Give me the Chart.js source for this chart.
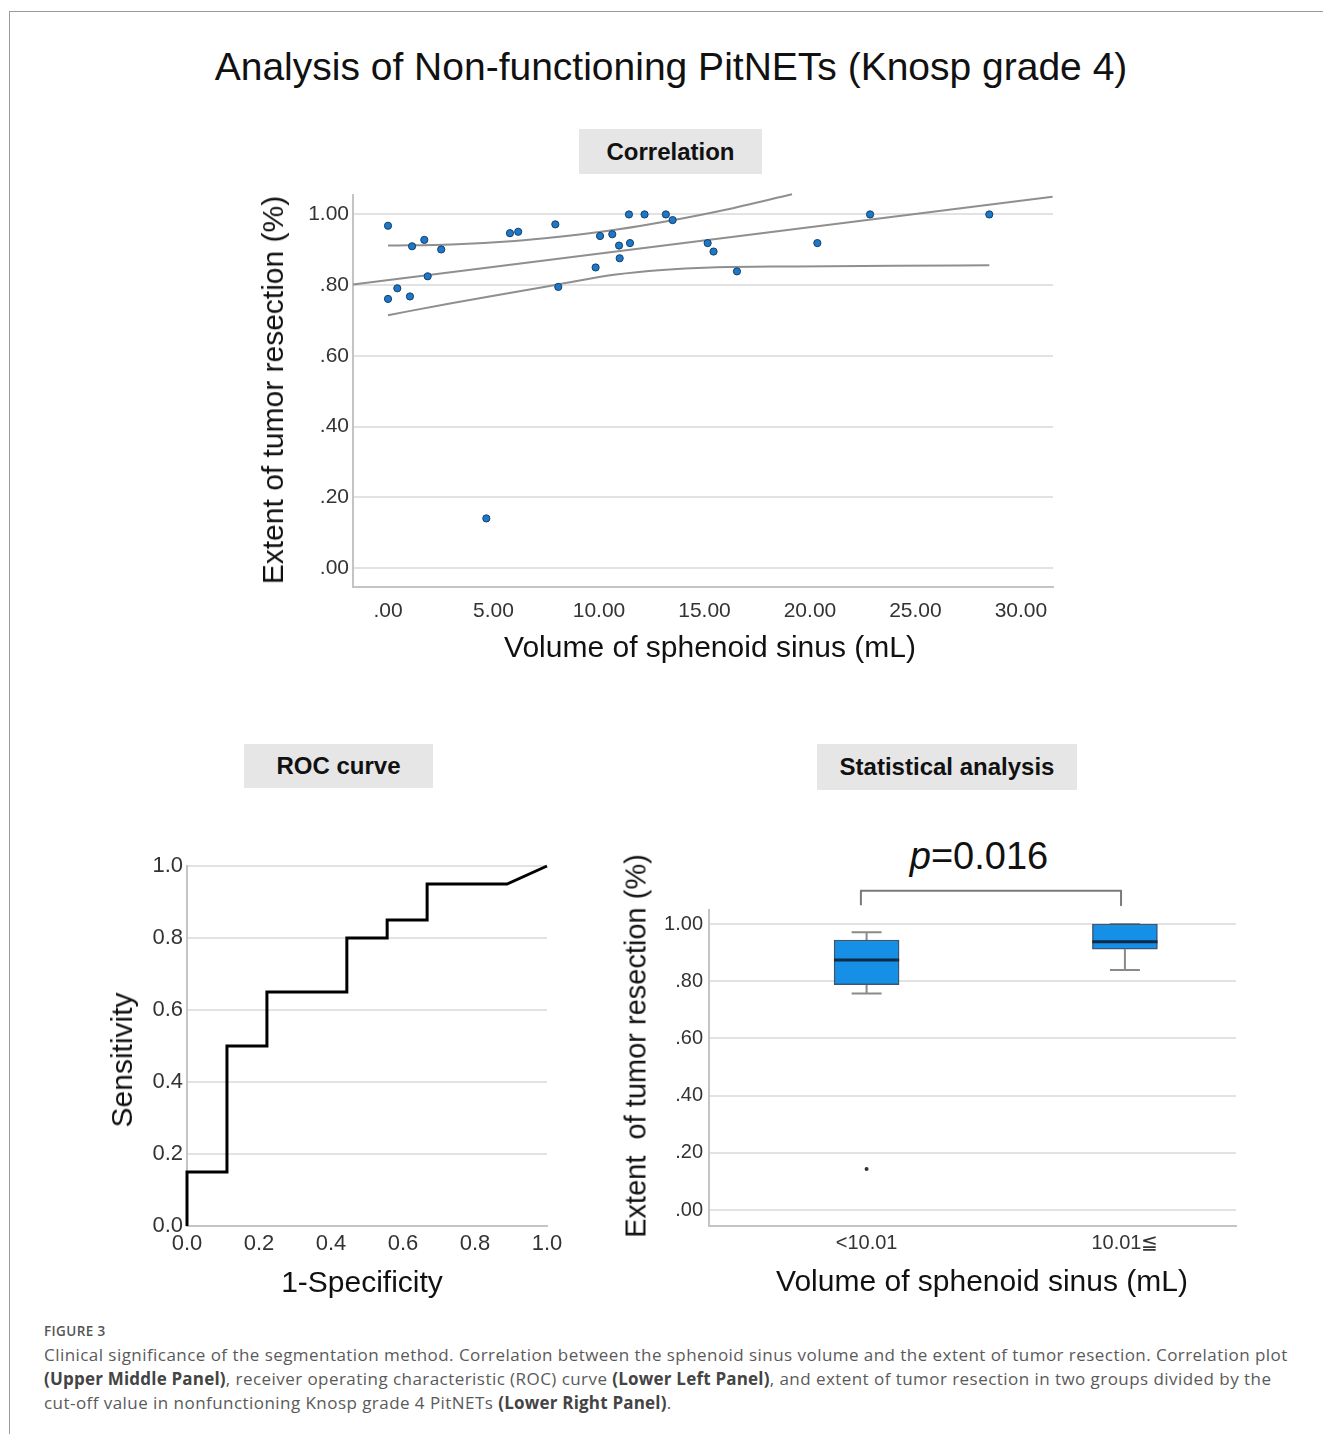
<!DOCTYPE html>
<html>
<head>
<meta charset="utf-8">
<title>Analysis of Non-functioning PitNETs (Knosp grade 4)</title>
<script src="https://cdn.jsdelivr.net/npm/chart.js@4.4.1/dist/chart.umd.min.js"></script>
<style>
  html, body { margin: 0; padding: 0; background: #fff; }
  body { width: 1323px; height: 1434px; position: relative; overflow: hidden;
         font-family: "Liberation Sans", Arial, sans-serif; color: #111; }
  .frame { position: absolute; left: 9px; top: 11px; right: 0; bottom: 0;
           border-left: 1px solid #9a9a9a; border-top: 1px solid #9a9a9a; }
  .txt { position: absolute; white-space: pre; line-height: 1; }
  .center { transform: translate(-50%, -50%); }
  .rot { transform: translate(-50%, -50%) rotate(-90deg); }
  .head { position: absolute; background: #e6e6e6; font-weight: bold; font-size: 24px;
          display: flex; align-items: center; justify-content: center; color: #111; }
  canvas { position: absolute; }
  .fig { position: absolute; left: 44px; top: 1323px; font-family: "Open Sans", sans-serif;
         font-size: 13.5px; letter-spacing: 0.4px; font-weight: 600; color: #555; line-height: 16px; }
  .cap { position: absolute; left: 44px; top: 1343px; font-family: "Open Sans", sans-serif;
         font-size: 17px; letter-spacing: 0.45px; color: #5a5a5a; line-height: 24px; white-space: nowrap; }
  .cap b { color: #444; letter-spacing: 0.2px; }
</style>
</head>
<body>
<div class="frame"></div>

<div class="txt center" style="left:671px; top:66px; font-size:39px;">Analysis of Non-functioning PitNETs (Knosp grade 4)</div>

<div class="head" style="left:579px; top:129px; width:183px; height:45px;">Correlation</div>
<div class="head" style="left:244px; top:744px; width:189px; height:44px;">ROC curve</div>
<div class="head" style="left:817px; top:744px; width:260px; height:46px;">Statistical analysis</div>

<canvas id="corr" width="840" height="500" style="left:230px; top:175px;"></canvas>
<canvas id="roc" width="480" height="470" style="left:90px; top:840px;"></canvas>
<canvas id="box" width="660" height="430" style="left:600px; top:880px;"></canvas>

<div class="txt rot" style="left:273px; top:390px; font-size:30px;">Extent of tumor resection (%)</div>
<div class="txt center" style="left:710px; top:647px; font-size:30px;">Volume of sphenoid sinus (mL)</div>

<div class="txt rot" style="left:122px; top:1060px; font-size:30px;">Sensitivity</div>
<div class="txt center" style="left:362px; top:1282px; font-size:30px;">1-Specificity</div>

<div class="txt rot" style="left:636px; top:1046px; font-size:29px;">Extent  of tumor resection (%)</div>
<div class="txt center" style="left:982px; top:1281px; font-size:30px;">Volume of sphenoid sinus (mL)</div>
<div class="txt center" style="left:979px; top:856px; font-size:38px;"><i>p</i>=0.016</div>

<div class="fig">FIGURE 3</div>
<div class="cap">Clinical significance of the segmentation method. Correlation between the sphenoid sinus volume and the extent of tumor resection. Correlation plot<br><b>(Upper Middle Panel)</b>, receiver operating characteristic (ROC) curve <b>(Lower Left Panel)</b>, and extent of tumor resection in two groups divided by the<br>cut-off value in nonfunctioning Knosp grade 4 PitNETs <b>(Lower Right Panel)</b>.</div>

<script>
// correlation plot -----------
const volume = [0.0, 1.14, 1.72, 2.52, 1.88, 0.44, 0.0, 1.04, 5.78, 6.17, 7.93, 8.07, 9.84, 4.66,
  10.05, 10.63, 10.95, 10.98, 11.47, 11.42, 12.16, 13.17, 13.49, 15.15, 15.43, 16.54, 20.35, 22.85, 28.5];
const resection = [0.968, 0.910, 0.928, 0.901, 0.825, 0.791, 0.761, 0.768, 0.947, 0.951, 0.972, 0.795, 0.850, 0.140,
  0.939, 0.944, 0.912, 0.876, 0.919, 1.0, 1.0, 1.0, 0.984, 0.919, 0.895, 0.839, 0.919, 1.0, 1.0];
const fitX = [-1.66, 31.5];
const fitY = [0.802, 1.050];
const upperX = [0, 3, 6, 8, 10, 12, 14, 16, 19.15];
const upperY = [0.912, 0.915, 0.925, 0.936, 0.950, 0.968, 0.989, 1.013, 1.057];
const lowerX = [0, 3, 6.1, 8.07, 10.8, 13, 15.3, 19.4, 24, 28.5];
const lowerY = [0.715, 0.749, 0.781, 0.802, 0.830, 0.843, 0.850, 0.853, 0.855, 0.856];
const corrXTicks = [0, 5, 10, 15, 20, 25, 30];
const corrXLabels = ['.00', '5.00', '10.00', '15.00', '20.00', '25.00', '30.00'];
const corrYTicks = [0, 0.2, 0.4, 0.6, 0.8, 1.0];
const corrYLabels = ['.00', '.20', '.40', '.60', '.80', '1.00'];

// roc curve -----------
const rocFpr = [0, 0, 0.111, 0.111, 0.222, 0.222, 0.444, 0.444, 0.556, 0.556, 0.667, 0.667, 0.889, 1.0];
const rocSens = [0, 0.15, 0.15, 0.5, 0.5, 0.65, 0.65, 0.8, 0.8, 0.85, 0.85, 0.95, 0.95, 1.0];
const rocTicks = [0, 0.2, 0.4, 0.6, 0.8, 1.0];
const rocLabels = ['0.0', '0.2', '0.4', '0.6', '0.8', '1.0'];

// box plot -----------
const groups = ['<10.01', '10.01≦'];
const groupPos = [1, 2];
const boxMin = [0.757, 0.839];
const boxQ1 = [0.788, 0.912];
const boxMedian = [0.874, 0.938];
const boxQ3 = [0.944, 1.0];
const boxMax = [0.971, 1.0];
const outlierPos = [1];
const outlierValue = [0.143];
const bracketX = [0.978, 0.978, 1.985, 1.985];
const bracketY = [1.066, 1.116, 1.116, 1.066];
const boxYTicks = [0, 0.2, 0.4, 0.6, 0.8, 1.0];
const boxYLabels = ['.00', '.20', '.40', '.60', '.80', '1.00'];

const FONT = '"Liberation Sans", Arial, sans-serif';
const GRID = '#e2e2e2';
const AXIS = '#c4c4c4';

function pts(xs, ys) {
    return xs.map((x, i) => ({x: x, y: ys[i]}));
}

function setTicks(values) {
    return function (scale) { scale.ticks = values.map(v => ({value: v})); };
}

function yAxis(min, max, ticks, labels, width, size, pad) {
    return {
        type: 'linear', min: min, max: max,
        afterBuildTicks: setTicks(ticks),
        afterFit: (s) => { s.width = width; },
        grid: {color: GRID, lineWidth: 2, drawTicks: false},
        border: {color: AXIS, width: 2},
        ticks: {
            padding: pad, color: '#333', font: {family: FONT, size: size},
            callback: (v, i) => labels[i]
        }
    };
}

function xAxis(min, max, ticks, labels, height, size, pad) {
    return {
        type: 'linear', min: min, max: max, offset: false,
        afterBuildTicks: setTicks(ticks),
        afterFit: (s) => { s.height = height; },
        grid: {display: false, drawTicks: false, offset: false},
        border: {color: AXIS, width: 2},
        ticks: {
            padding: pad, color: '#333', font: {family: FONT, size: size}, maxRotation: 0,
            callback: (v, i) => labels[i]
        }
    };
}

const baseOptions = {
    responsive: false,
    animation: false,
    devicePixelRatio: 1,
    plugins: {legend: {display: false}, tooltip: {enabled: false}}
};

new Chart(document.getElementById('corr'), {
    type: 'scatter',
    data: {
        datasets: [
            {data: pts(volume, resection), backgroundColor: '#1e78c8', borderColor: '#143f6a',
             borderWidth: 1, pointRadius: 3.6, order: 0},
            {data: pts(fitX, fitY), showLine: true, borderColor: '#8f8f8f', borderWidth: 2,
             pointRadius: 0, clip: false, order: 1},
            {data: pts(upperX, upperY), showLine: true, borderColor: '#8f8f8f', borderWidth: 2,
             pointRadius: 0, cubicInterpolationMode: 'monotone', clip: false, order: 1},
            {data: pts(lowerX, lowerY), showLine: true, borderColor: '#8f8f8f', borderWidth: 2,
             pointRadius: 0, cubicInterpolationMode: 'monotone', clip: false, order: 1}
        ]
    },
    options: Object.assign({}, baseOptions, {
        layout: {padding: {top: 20, right: 17, left: 0, bottom: 0}},
        scales: {
            x: xAxis(-1.66, 31.52, corrXTicks, corrXLabels, 88, 21, 12),
            y: yAxis(-0.054, 1.055, corrYTicks, corrYLabels, 123, 21, 4)
        }
    })
});

new Chart(document.getElementById('roc'), {
    type: 'scatter',
    data: {
        datasets: [
            {data: pts(rocFpr, rocSens), showLine: true, borderColor: '#000', borderWidth: 3,
             pointRadius: 0, borderJoinStyle: 'miter', clip: false}
        ]
    },
    options: Object.assign({}, baseOptions, {
        layout: {padding: {top: 26, right: 23, left: 0, bottom: 0}},
        scales: {
            x: xAxis(0, 1, rocTicks, rocLabels, 84, 22, 5),
            y: yAxis(0, 1, rocTicks, rocLabels, 97, 22, 4)
        }
    })
});

// whiskers + caps and medians as broken line segments
const capHalf = 0.058;
const boxHalf = 0.126;
const whiskers = [];
const medians = [];
groupPos.forEach((x, i) => {
    whiskers.push({x: x, y: boxQ3[i]}, {x: x, y: boxMax[i]}, {x: x, y: null});
    whiskers.push({x: x - capHalf, y: boxMax[i]}, {x: x + capHalf, y: boxMax[i]}, {x: x, y: null});
    whiskers.push({x: x, y: boxQ1[i]}, {x: x, y: boxMin[i]}, {x: x, y: null});
    whiskers.push({x: x - capHalf, y: boxMin[i]}, {x: x + capHalf, y: boxMin[i]}, {x: x, y: null});
    medians.push({x: x - boxHalf, y: boxMedian[i]}, {x: x + boxHalf, y: boxMedian[i]}, {x: x, y: null});
});

new Chart(document.getElementById('box'), {
    type: 'scatter',
    data: {
        datasets: [
            {data: whiskers, showLine: true, borderColor: '#8a8a8a', borderWidth: 2, pointRadius: 0, order: 3},
            {type: 'bar', data: groupPos.map((x, i) => ({x: x, y: [boxQ1[i], boxQ3[i]]})),
             backgroundColor: '#1590e6', borderColor: '#3b5673', borderWidth: 1.5,
             borderSkipped: false, barThickness: 65, order: 2},
            {data: medians, showLine: true, borderColor: '#0d2a47', borderWidth: 3, pointRadius: 0, order: 1},
            {data: pts(outlierPos, outlierValue), backgroundColor: '#333', borderWidth: 0, pointRadius: 2, order: 0},
            {data: pts(bracketX, bracketY), showLine: true, borderColor: '#7a7a7a', borderWidth: 2,
             pointRadius: 0, borderJoinStyle: 'round', clip: false, order: 0}
        ]
    },
    options: Object.assign({}, baseOptions, {
        layout: {padding: {top: 30, right: 24, left: 0, bottom: 0}},
        scales: {
            x: xAxis(0.39, 2.43, groupPos, groups, 84, 20, 5),
            y: yAxis(-0.056, 1.049, boxYTicks, boxYLabels, 109, 20, 6)
        }
    })
});
</script>
</body>
</html>
